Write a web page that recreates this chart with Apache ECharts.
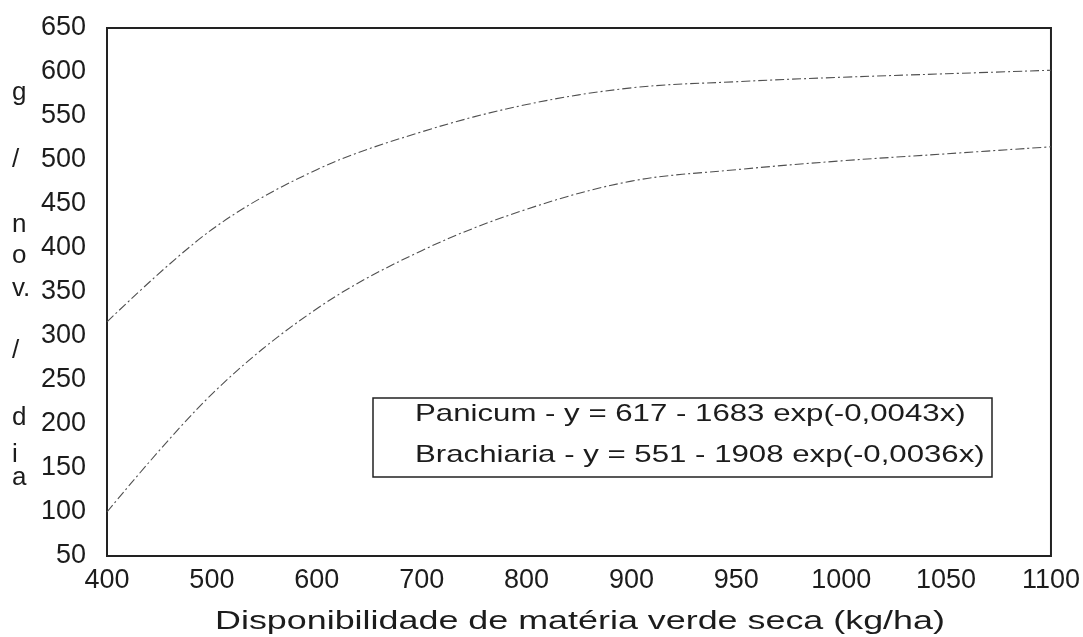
<!DOCTYPE html>
<html>
<head>
<meta charset="utf-8">
<script src="https://cdn.jsdelivr.net/npm/echarts@6/dist/echarts.min.js"></script>
<style>
  html, body { margin: 0; padding: 0; background: #ffffff; }
  #chart { width: 1083px; height: 637px; }
</style>
</head>
<body>
<div id="chart"></div>
<script>
// Green dry matter availability (kg/ha) – category ticks as printed
const categories = ['400', '500', '600', '700', '800', '900', '950', '1000', '1050', '1100'];
// Daily gain per steer (g/nov./dia)
const panicum    = [316, 421, 489, 532, 563, 582, 589, 594, 598, 602];
const brachiaria = [100, 234, 331, 397, 444, 476, 489, 499, 507, 515];

const yMin = 50, yMax = 650, yStep = 50;

const equations = [
  'Panicum - y = 617 - 1683 exp(-0,0043x)',
  'Brachiaria - y = 551 - 1908 exp(-0,0036x)'
];
const xTitle = 'Disponibilidade de matéria verde seca (kg/ha)';
// vertical y-axis caption, one glyph group per entry
const yCaption = [
  ['g', 93], ['/', 160], ['n', 225], ['o', 256], ['v.', 289],
  ['/', 351], ['d', 418], ['i', 455], ['a', 478]
];

const FONT = '"Liberation Sans", Arial, sans-serif';
const INK = '#1c1c1c';
const lineStyle = { width: 1.1, color: '#505050', type: [9, 3, 2, 3] };

const chart = echarts.init(document.getElementById('chart'), null, { renderer: 'canvas' });

const graphics = [];
yCaption.forEach(([ch, y]) => {
  graphics.push({
    type: 'text', x: 12, y: y,
    style: { text: ch, font: '26px ' + FONT, fill: INK, textAlign: 'left', textVerticalAlign: 'middle' }
  });
});
// equation box
graphics.push({
  type: 'rect', shape: { x: 373, y: 398, width: 619, height: 79 },
  style: { fill: '#ffffff', stroke: '#222', lineWidth: 1.5 }, z: 10
});
equations.forEach((t, i) => {
  graphics.push({
    type: 'text', x: 415, y: 414 + i * 41, scaleX: 1.3, originX: 0, originY: 0, z: 11,
    style: { text: t, font: '24px ' + FONT, fill: INK, textAlign: 'left', textVerticalAlign: 'middle' }
  });
});
graphics.push({
  type: 'text', x: 215, y: 622, scaleX: 1.38, originX: 0, originY: 0,
  style: { text: xTitle, font: '26px ' + FONT, fill: INK, textAlign: 'left', textVerticalAlign: 'middle' }
});

chart.setOption({
  animation: false,
  backgroundColor: '#ffffff',
  grid: {
    left: 107, right: 30, top: 28, bottom: 81,
    show: true, borderColor: '#222', borderWidth: 2, backgroundColor: 'transparent'
  },
  xAxis: {
    type: 'category',
    data: categories,
    boundaryGap: false,
    axisLine: { show: false },
    axisTick: { show: false },
    splitLine: { show: false },
    axisLabel: { color: INK, fontFamily: FONT, fontSize: 27, margin: 11 }
  },
  yAxis: {
    type: 'value',
    min: yMin, max: yMax, interval: yStep,
    axisLine: { show: false },
    axisTick: { show: false },
    splitLine: { show: false },
    axisLabel: { color: INK, fontFamily: FONT, fontSize: 27, margin: 21 }
  },
  series: [
    { name: 'Panicum', type: 'line', data: panicum, smooth: 0.35, showSymbol: false, lineStyle: lineStyle },
    { name: 'Brachiaria', type: 'line', data: brachiaria, smooth: 0.35, showSymbol: false, lineStyle: lineStyle }
  ],
  graphic: graphics
});
</script>
</body>
</html>
